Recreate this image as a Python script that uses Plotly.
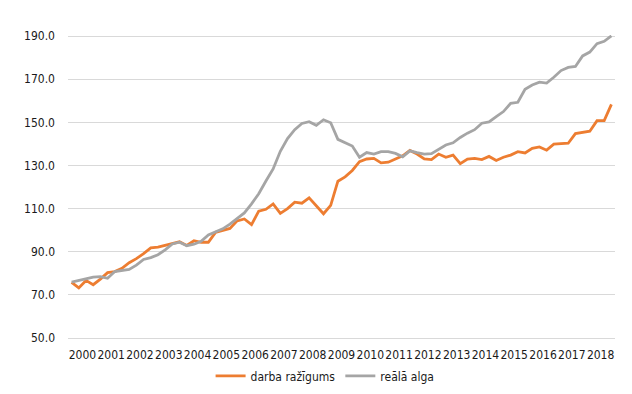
import plotly.graph_objects as go

years = [str(y) for y in range(2000, 2019)]

darba_razigums = [
    75.8, 73.2, 76.7, 74.7,
    77.3, 80.3, 80.8, 82.3,
    84.9, 86.8, 89.1, 91.8,
    92.1, 92.9, 94.0, 94.6,
    92.9, 95.1, 94.4, 94.4,
    99.0, 100.0, 100.8, 104.3,
    105.2, 102.6, 108.8, 109.7,
    112.2, 107.8, 110.0, 113.0,
    112.5, 115.0, 111.2, 107.6,
    111.5, 122.7, 124.7, 127.7,
    131.8, 133.0, 133.3, 131.2,
    131.5, 133.0, 134.5, 137.0,
    135.3, 133.0, 132.7, 135.3,
    133.8, 134.8, 130.8, 133.0,
    133.3, 132.7, 134.2, 132.3,
    133.8, 134.8, 136.4, 135.8,
    137.9, 138.6, 137.1, 139.9,
    140.0, 140.3, 144.8, 145.4,
    145.9, 150.8, 150.8, 158.3,
]

reala_alga = [
    75.9, 76.7, 77.7, 78.2,
    78.5, 77.7, 80.8, 81.2,
    81.8, 83.8, 86.4, 87.3,
    88.6, 90.9, 93.6, 94.4,
    92.8, 93.5, 94.8, 97.8,
    99.3, 100.6, 102.8, 105.3,
    108.0, 112.2, 116.9, 122.8,
    128.4, 136.6, 142.5, 146.6,
    149.5, 150.3, 148.6, 151.2,
    149.8, 142.1, 140.6, 139.0,
    133.8, 136.0, 135.3, 136.4,
    136.4, 135.6, 134.0, 136.8,
    136.0, 135.3, 135.5, 137.5,
    139.5, 140.5, 143.0, 145.0,
    146.6, 149.6, 150.2, 152.7,
    155.0, 158.8, 159.3, 165.3,
    167.3, 168.6, 168.2, 170.9,
    174.0, 175.5, 175.9, 180.8,
    182.6, 186.5, 187.6, 190.1,
]

y_ticks = [50, 70, 90, 110, 130, 150, 170, 190]

n = len(darba_razigums)
x_idx = list(range(n))
year_pos = [4 * k + 1.5 for k in range(len(years))]

fig = go.Figure()
fig.add_trace(go.Scatter(
    x=x_idx, y=darba_razigums, mode="lines", name="darba ražīgums",
    line=dict(color="#ED7D31", width=2.8),
))
fig.add_trace(go.Scatter(
    x=x_idx, y=reala_alga, mode="lines", name="reālā alga",
    line=dict(color="#A5A5A5", width=2.8),
))

font_family = "DejaVu Sans Condensed, Liberation Sans, sans-serif"
fig.update_layout(
    width=632, height=394,
    margin=dict(l=60, r=25, t=27, b=58),
    paper_bgcolor="white", plot_bgcolor="white",
    font=dict(family=font_family, size=12, color="#1a1a1a"),
    showlegend=True,
    legend=dict(orientation="h", x=0.47, xanchor="center", y=-0.125, yanchor="middle",
                font=dict(size=12), itemwidth=30, tracegroupgap=0),
    xaxis=dict(range=[-0.5, n - 0.5], tickmode="array", tickvals=year_pos, ticktext=years,
               showgrid=False, zeroline=False, showline=True, linecolor="#D9D9D9",
               linewidth=1, ticks="", ticklabelstandoff=6, tickangle=0),
    yaxis=dict(range=[50, 190.5], tickmode="array", tickvals=y_ticks,
               ticktext=[f"{v:.1f}" for v in y_ticks], showgrid=True,
               gridcolor="#D9D9D9", gridwidth=1, zeroline=False, showline=False,
               ticks="", ticklabelstandoff=12),
)

fig.write_html("out.html")
